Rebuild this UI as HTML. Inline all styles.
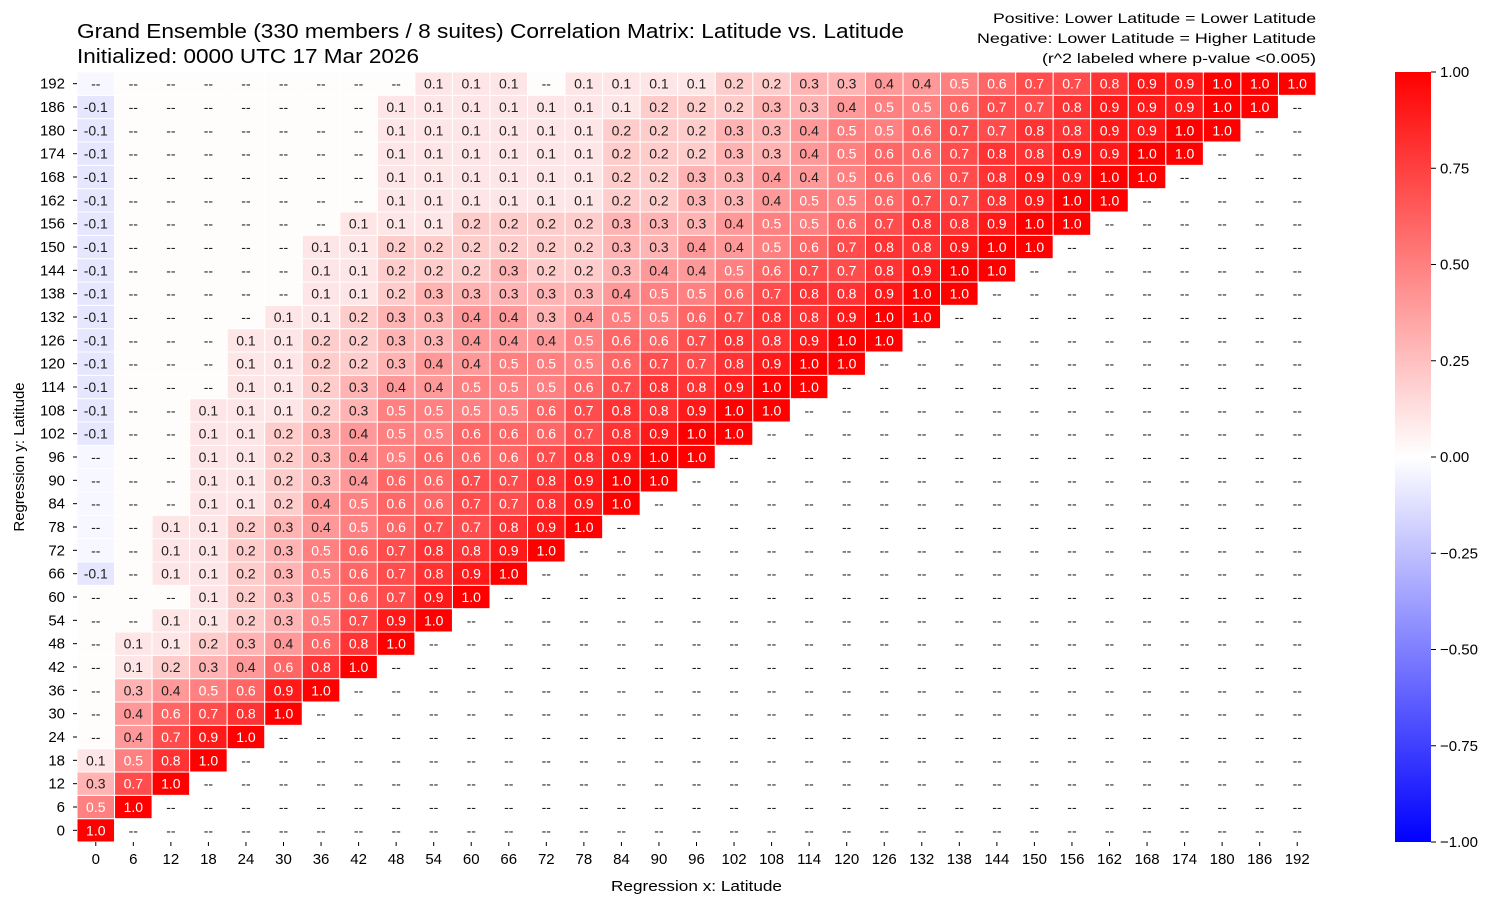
<!DOCTYPE html>
<html><head><meta charset="utf-8">
<style>
body{margin:0;background:#fff;}
svg text{font-family:"Liberation Sans",sans-serif;}
</style></head>
<body>
<svg id="chart" width="1503" height="907" xmlns="http://www.w3.org/2000/svg">
<text x="77" y="38" font-size="20" fill="#000" textLength="827" lengthAdjust="spacingAndGlyphs">Grand Ensemble (330 members / 8 suites) Correlation Matrix: Latitude vs. Latitude</text>
<text x="77" y="63" font-size="20" fill="#000" textLength="342" lengthAdjust="spacingAndGlyphs">Initialized: 0000 UTC 17 Mar 2026</text>
<text x="1316" y="23" font-size="14" text-anchor="end" textLength="323" lengthAdjust="spacingAndGlyphs">Positive: Lower Latitude = Lower Latitude</text>
<text x="1316" y="43" font-size="14" text-anchor="end" textLength="339" lengthAdjust="spacingAndGlyphs">Negative: Lower Latitude = Higher Latitude</text>
<text x="1316" y="63" font-size="14" text-anchor="end" textLength="274" lengthAdjust="spacingAndGlyphs">(r^2 labeled where p-value &lt;0.005)</text>
<text x="611" y="891" font-size="15" textLength="171" lengthAdjust="spacingAndGlyphs">Regression x: Latitude</text>
<text transform="translate(24,457) rotate(-90)" font-size="15" text-anchor="middle">Regression y: Latitude</text>
<g id="cells"></g>
<g id="axes"></g>
<g id="cbar"></g>
</svg>
<script>
const categories = [0,6,12,18,24,30,36,42,48,54,60,66,72,78,84,90,96,102,108,114,120,126,132,138,144,150,156,162,168,174,180,186,192];
const rowsLabels = {
192:"-- -- -- -- -- -- -- -- -- 0.1 0.1 0.1 -- 0.1 0.1 0.1 0.1 0.2 0.2 0.3 0.3 0.4 0.4 0.5 0.6 0.7 0.7 0.8 0.9 0.9 1.0 1.0 1.0",
186:"-0.1 -- -- -- -- -- -- -- 0.1 0.1 0.1 0.1 0.1 0.1 0.1 0.2 0.2 0.2 0.3 0.3 0.4 0.5 0.5 0.6 0.7 0.7 0.8 0.9 0.9 0.9 1.0 1.0",
180:"-0.1 -- -- -- -- -- -- -- 0.1 0.1 0.1 0.1 0.1 0.1 0.2 0.2 0.2 0.3 0.3 0.4 0.5 0.5 0.6 0.7 0.7 0.8 0.8 0.9 0.9 1.0 1.0",
174:"-0.1 -- -- -- -- -- -- -- 0.1 0.1 0.1 0.1 0.1 0.1 0.2 0.2 0.2 0.3 0.3 0.4 0.5 0.6 0.6 0.7 0.8 0.8 0.9 0.9 1.0 1.0",
168:"-0.1 -- -- -- -- -- -- -- 0.1 0.1 0.1 0.1 0.1 0.1 0.2 0.2 0.3 0.3 0.4 0.4 0.5 0.6 0.6 0.7 0.8 0.9 0.9 1.0 1.0",
162:"-0.1 -- -- -- -- -- -- -- 0.1 0.1 0.1 0.1 0.1 0.1 0.2 0.2 0.3 0.3 0.4 0.5 0.5 0.6 0.7 0.7 0.8 0.9 1.0 1.0",
156:"-0.1 -- -- -- -- -- -- 0.1 0.1 0.1 0.2 0.2 0.2 0.2 0.3 0.3 0.3 0.4 0.5 0.5 0.6 0.7 0.8 0.8 0.9 1.0 1.0",
150:"-0.1 -- -- -- -- -- 0.1 0.1 0.2 0.2 0.2 0.2 0.2 0.2 0.3 0.3 0.4 0.4 0.5 0.6 0.7 0.8 0.8 0.9 1.0 1.0",
144:"-0.1 -- -- -- -- -- 0.1 0.1 0.2 0.2 0.2 0.3 0.2 0.2 0.3 0.4 0.4 0.5 0.6 0.7 0.7 0.8 0.9 1.0 1.0",
138:"-0.1 -- -- -- -- -- 0.1 0.1 0.2 0.3 0.3 0.3 0.3 0.3 0.4 0.5 0.5 0.6 0.7 0.8 0.8 0.9 1.0 1.0",
132:"-0.1 -- -- -- -- 0.1 0.1 0.2 0.3 0.3 0.4 0.4 0.3 0.4 0.5 0.5 0.6 0.7 0.8 0.8 0.9 1.0 1.0",
126:"-0.1 -- -- -- 0.1 0.1 0.2 0.2 0.3 0.3 0.4 0.4 0.4 0.5 0.6 0.6 0.7 0.8 0.8 0.9 1.0 1.0",
120:"-0.1 -- -- -- 0.1 0.1 0.2 0.2 0.3 0.4 0.4 0.5 0.5 0.5 0.6 0.7 0.7 0.8 0.9 1.0 1.0",
114:"-0.1 -- -- -- 0.1 0.1 0.2 0.3 0.4 0.4 0.5 0.5 0.5 0.6 0.7 0.8 0.8 0.9 1.0 1.0",
108:"-0.1 -- -- 0.1 0.1 0.1 0.2 0.3 0.5 0.5 0.5 0.5 0.6 0.7 0.8 0.8 0.9 1.0 1.0",
102:"-0.1 -- -- 0.1 0.1 0.2 0.3 0.4 0.5 0.5 0.6 0.6 0.6 0.7 0.8 0.9 1.0 1.0",
96:"-- -- -- 0.1 0.1 0.2 0.3 0.4 0.5 0.6 0.6 0.6 0.7 0.8 0.9 1.0 1.0",
90:"-- -- -- 0.1 0.1 0.2 0.3 0.4 0.6 0.6 0.7 0.7 0.8 0.9 1.0 1.0",
84:"-- -- -- 0.1 0.1 0.2 0.4 0.5 0.6 0.6 0.7 0.7 0.8 0.9 1.0",
78:"-- -- 0.1 0.1 0.2 0.3 0.4 0.5 0.6 0.7 0.7 0.8 0.9 1.0",
72:"-- -- 0.1 0.1 0.2 0.3 0.5 0.6 0.7 0.8 0.8 0.9 1.0",
66:"-0.1 -- 0.1 0.1 0.2 0.3 0.5 0.6 0.7 0.8 0.9 1.0",
60:"-- -- -- 0.1 0.2 0.3 0.5 0.6 0.7 0.9 1.0",
54:"-- -- 0.1 0.1 0.2 0.3 0.5 0.7 0.9 1.0",
48:"-- 0.1 0.1 0.2 0.3 0.4 0.6 0.8 1.0",
42:"-- 0.1 0.2 0.3 0.4 0.6 0.8 1.0",
36:"-- 0.3 0.4 0.5 0.6 0.9 1.0",
30:"-- 0.4 0.6 0.7 0.8 1.0",
24:"-- 0.4 0.7 0.9 1.0",
18:"0.1 0.5 0.8 1.0",
12:"0.3 0.7 1.0",
6:"0.5 1.0",
0:"1.0"
};
const cbTicks = [1.00,0.75,0.50,0.25,0.00,-0.25,-0.50,-0.75,-1.00];

const X0=77, X1=1316, Y0=72, Y1=842;
const n = categories.length;
const cw=(X1-X0)/n, ch=(Y1-Y0)/n;
const xPos = i => X0 + i*cw;
const yPos = v => Y0 + (n-1-categories.indexOf(v))*ch;
function color(v){
  v=Math.max(-1,Math.min(1,v));
  if(v>=0){const g=Math.round(255*(1-v));return `rgb(255,${g},${g})`;}
  const g=Math.round(255*(1+v));return `rgb(${g},${g},255)`;
}
const NS="http://www.w3.org/2000/svg";
const cells=document.getElementById('cells');
categories.forEach(ry=>{
  const labels=rowsLabels[ry].split(' ');
  const y=yPos(ry);
  for(let i=0;i<n;i++){
    const x=xPos(i);
    const lab = i<labels.length ? labels[i] : '--';
    if(i<labels.length){
      let v = lab==='--' ? (i===0 && ry>=72 ? -0.03 : 0.01) : parseFloat(lab);
      const r=document.createElementNS(NS,'rect');
      
      
      r.setAttribute('x',x);r.setAttribute('y',y);
      r.setAttribute('width',cw);r.setAttribute('height',ch);
      r.setAttribute('fill',color(v));r.setAttribute('stroke','#fff');r.setAttribute('stroke-width','1');
      cells.appendChild(r);
    }
    const t=document.createElementNS(NS,'text');
    
    
    t.setAttribute('x',x+cw/2);t.setAttribute('y',y+ch/2+5);
    t.setAttribute('text-anchor','middle');t.setAttribute('font-size','14');
    const num=parseFloat(lab);
    t.setAttribute('fill', (!isNaN(num) && num>=0.5) ? '#fff' : '#222');
    t.textContent=lab;
    cells.appendChild(t);
  }
});
const axes=document.getElementById('axes');
categories.forEach((c,i)=>{
  const t=document.createElementNS(NS,'text');
  
  
  t.setAttribute('x',xPos(i)+cw/2);t.setAttribute('y',Y1+22);
  t.setAttribute('text-anchor','middle');t.setAttribute('font-size','15');
  t.textContent=c;axes.appendChild(t);
  const l=document.createElementNS(NS,'line');
  
  
  l.setAttribute('x1',xPos(i)+cw/2);l.setAttribute('x2',xPos(i)+cw/2);
  l.setAttribute('y1',Y1);l.setAttribute('y2',Y1+4);l.setAttribute('stroke','#000');
  axes.appendChild(l);
  const ty=document.createElementNS(NS,'text');
  
  
  ty.setAttribute('x',X0-12);ty.setAttribute('y',yPos(c)+ch/2+5);
  ty.setAttribute('text-anchor','end');ty.setAttribute('font-size','15');
  ty.textContent=c;axes.appendChild(ty);
  const ly=document.createElementNS(NS,'line');
  
  
  ly.setAttribute('x1',X0-4);ly.setAttribute('x2',X0);
  ly.setAttribute('y1',yPos(c)+ch/2);ly.setAttribute('y2',yPos(c)+ch/2);ly.setAttribute('stroke','#000');
  axes.appendChild(ly);
});
const cb=document.getElementById('cbar');
const CX=1395, CW=36;
const defs=document.createElementNS(NS,'defs');
defs.innerHTML='<linearGradient id="cbg" x1="0" y1="0" x2="0" y2="1"><stop offset="0" stop-color="#ff0000"/><stop offset="0.5" stop-color="#ffffff"/><stop offset="1" stop-color="#0000ff"/></linearGradient>';
cb.appendChild(defs);
const cr=document.createElementNS(NS,'rect');


cr.setAttribute('x',CX);cr.setAttribute('y',Y0);cr.setAttribute('width',CW);cr.setAttribute('height',Y1-Y0);
cr.setAttribute('fill','url(#cbg)');
cb.appendChild(cr);
const cbY = v => Y0 + (1-v)/2*(Y1-Y0);
cbTicks.forEach(v=>{
  const l=document.createElementNS(NS,'line');
  
  
  l.setAttribute('x1',CX+CW);l.setAttribute('x2',CX+CW+5);
  l.setAttribute('y1',cbY(v));l.setAttribute('y2',cbY(v));l.setAttribute('stroke','#000');
  cb.appendChild(l);
  const t=document.createElementNS(NS,'text');
  
  
  t.setAttribute('x',CX+CW+9);t.setAttribute('y',cbY(v)+5);t.setAttribute('font-size','15');
  t.textContent=(v<0?'\u2212':'')+Math.abs(v).toFixed(2);
  cb.appendChild(t);
});
</script>
</body></html>
